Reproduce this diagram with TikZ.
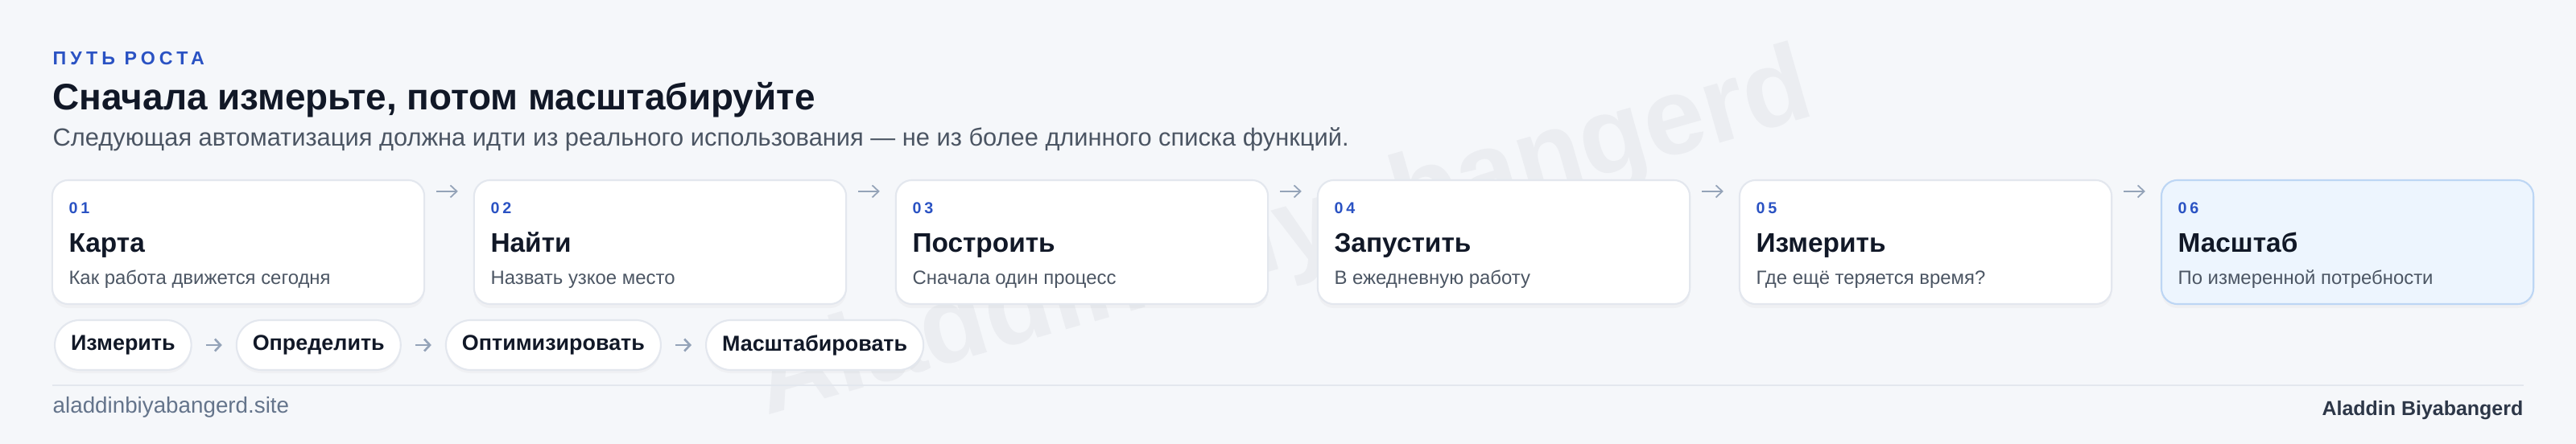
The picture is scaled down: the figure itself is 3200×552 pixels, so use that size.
\documentclass[tikz,border=0pt]{standalone}
\usepackage{fontspec}
\setmainfont{Liberation Sans}
\newfontfamily\spacedfont[LetterSpace=22]{Liberation Sans}
\newfontfamily\numfont[LetterSpace=20]{Liberation Sans}
\usetikzlibrary{positioning,arrows.meta,shadows}

\definecolor{pagebg}{HTML}{F5F7FA}
\definecolor{ink}{HTML}{111827}
\definecolor{muted}{HTML}{4B5563}
\definecolor{accent}{HTML}{2A52C3}
\definecolor{cardline}{HTML}{E3E7EE}
\definecolor{arrowgrey}{HTML}{94A3B8}
\definecolor{lastfill}{HTML}{EDF5FE}
\definecolor{lastline}{HTML}{BDD6F4}
\definecolor{footgrey}{HTML}{64748B}
\definecolor{footdark}{HTML}{2D3748}
\definecolor{wmark}{HTML}{EBEDF1}

\tikzset{
  card/.style={draw=cardline, line width=0.6pt, fill=white, rounded corners=0.2cm,
    minimum width=4.62cm, minimum height=1.54cm, inner sep=0pt,
    drop shadow={opacity=0.05, shadow xshift=0cm, shadow yshift=-0.05cm}},
  lastcard/.style={card, draw=lastline, fill=lastfill},
  stepnum/.style={anchor=base west, inner sep=0pt, text=accent,
    font=\numfont\bfseries\fontsize{5.6}{7}\selectfont},
  steptitle/.style={anchor=base west, inner sep=0pt, text=ink,
    font=\bfseries\fontsize{9.5}{11}\selectfont},
  stepsub/.style={anchor=base west, inner sep=0pt, text=muted,
    font=\fontsize{6.8}{8}\selectfont},
  pill/.style={draw=cardline, line width=0.6pt, fill=white, rounded corners=0.31cm,
    minimum height=0.62cm, inner xsep=0.2cm, inner ysep=0pt, text=ink,
    font=\bfseries\fontsize{7.65}{9}\selectfont,
    drop shadow={opacity=0.05, shadow xshift=0cm, shadow yshift=-0.04cm}},
  flow/.style={-{Straight Barb[length=0.08cm, width=0.15cm]}, arrowgrey, line width=0.5pt},
  cycleflow/.style={-{Straight Barb[length=0.07cm, width=0.15cm]}, arrowgrey, line width=0.75pt},
}

\begin{document}
\begin{tikzpicture}[x=0.01cm, y=-0.01cm]
% Background
\fill[pagebg] (0,0) rectangle (3200,552);
\useasboundingbox (0,0) rectangle (3200,552);

% Watermark
\node[anchor=base west, inner sep=0pt, rotate=16, text=wmark, font=\bfseries\fontsize{38.6}{44}\selectfont] (mark) at (952,517) {Aladdin Biyabangerd};

% Heading
\node[anchor=base west, inner sep=0pt, text=accent, font=\spacedfont\bfseries\fontsize{6.6}{8}\selectfont] (eyebrow) at (65,81) {ПУТЬ РОСТА};
\node[anchor=base west, inner sep=0pt, text=ink, font=\bfseries\fontsize{13.05}{15}\selectfont] (title) at (65,137) {Сначала измерьте, потом масштабируйте};
\node[anchor=base west, inner sep=0pt, text=muted, font=\fontsize{8.77}{10}\selectfont] (lede) at (65,182) {Следующая автоматизация должна идти из реального использования — не из более длинного списка функций.};

% Steps
\node[card] (c1) at (296,301) {};
\node[card] (c2) [right=0.596cm of c1] {};
\node[card] (c3) [right=0.596cm of c2] {};
\node[card] (c4) [right=0.596cm of c3] {};
\node[card] (c5) [right=0.596cm of c4] {};
\node[lastcard] (c6) [right=0.596cm of c5] {};

\node[stepnum] (n1) at ([shift={(21,43)}]c1.north west) {01};
\node[steptitle] (t1) at ([shift={(21,91)}]c1.north west) {Карта};
\node[stepsub] (s1) at ([shift={(21,131)}]c1.north west) {Как работа движется сегодня};

\node[stepnum] (n2) at ([shift={(21,43)}]c2.north west) {02};
\node[steptitle] (t2) at ([shift={(21,91)}]c2.north west) {Найти};
\node[stepsub] (s2) at ([shift={(21,131)}]c2.north west) {Назвать узкое место};

\node[stepnum] (n3) at ([shift={(21,43)}]c3.north west) {03};
\node[steptitle] (t3) at ([shift={(21,91)}]c3.north west) {Построить};
\node[stepsub] (s3) at ([shift={(21,131)}]c3.north west) {Сначала один процесс};

\node[stepnum] (n4) at ([shift={(21,43)}]c4.north west) {04};
\node[steptitle] (t4) at ([shift={(21,91)}]c4.north west) {Запустить};
\node[stepsub] (s4) at ([shift={(21,131)}]c4.north west) {В ежедневную работу};

\node[stepnum] (n5) at ([shift={(21,43)}]c5.north west) {05};
\node[steptitle] (t5) at ([shift={(21,91)}]c5.north west) {Измерить};
\node[stepsub] (s5) at ([shift={(21,131)}]c5.north west) {Где ещё теряется время?};

\node[stepnum] (n6) at ([shift={(21,43)}]c6.north west) {06};
\node[steptitle] (t6) at ([shift={(21,91)}]c6.north west) {Масштаб};
\node[stepsub] (s6) at ([shift={(21,131)}]c6.north west) {По измеренной потребности};

% Arrows between steps
\draw[flow] ([shift={(14,15)}]c1.north east) -- ([shift={(-19,15)}]c2.north west);
\draw[flow] ([shift={(14,15)}]c2.north east) -- ([shift={(-19,15)}]c3.north west);
\draw[flow] ([shift={(14,15)}]c3.north east) -- ([shift={(-19,15)}]c4.north west);
\draw[flow] ([shift={(14,15)}]c4.north east) -- ([shift={(-19,15)}]c5.north west);
\draw[flow] ([shift={(14,15)}]c5.north east) -- ([shift={(-19,15)}]c6.north west);

% Cycle pills
\node[pill, anchor=west] (p1) at (67,429) {Измерить};
\node[pill] (p2) [right=0.54cm of p1] {Определить};
\node[pill] (p3) [right=0.54cm of p2] {Оптимизировать};
\node[pill] (p4) [right=0.54cm of p3] {Масштабировать};

\draw[cycleflow] ([xshift=0.17cm]p1.east) -- ([xshift=-0.17cm]p2.west);
\draw[cycleflow] ([xshift=0.17cm]p2.east) -- ([xshift=-0.17cm]p3.west);
\draw[cycleflow] ([xshift=0.17cm]p3.east) -- ([xshift=-0.17cm]p4.west);

% Footer
\draw[cardline, line width=0.6pt] (65,479) -- (3135,479);
\node[anchor=base west, inner sep=0pt, text=footgrey, font=\fontsize{7.9}{9}\selectfont] (site) at (65,514) {aladdinbiyabangerd.site};
\node[anchor=base east, inner sep=0pt, text=footdark, font=\bfseries\fontsize{7.1}{9}\selectfont] (author) at (3135,516) {Aladdin Biyabangerd};
\end{tikzpicture}
\end{document}
